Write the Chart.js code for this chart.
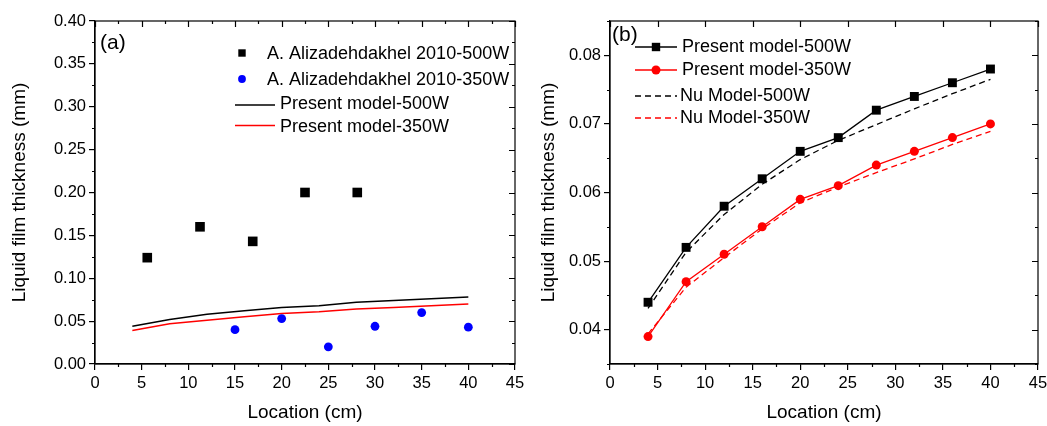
<!DOCTYPE html>
<html>
<head>
<meta charset="utf-8">
<script src="https://cdn.jsdelivr.net/npm/chart.js@4.4.1/dist/chart.umd.min.js"></script>
<style>
  html, body { margin: 0; padding: 0; background: #fff; width: 1047px; height: 426px; overflow: hidden; }
  #panelA { position: absolute; left: 0; top: 0; }
  #panelB { position: absolute; left: 530px; top: 0; }
</style>
</head>
<body>
<canvas id="panelA" width="530" height="426"></canvas>
<canvas id="panelB" width="517" height="426"></canvas>
<script>
// Model predictions along the tube (cm) -> film thickness (mm)
const locations  = [4, 8, 12, 16, 20, 24, 28, 32, 36, 40];
const present500 = [0.044, 0.052, 0.058, 0.062, 0.066, 0.068, 0.072, 0.074, 0.076, 0.078];
const present350 = [0.039, 0.047, 0.051, 0.055, 0.059, 0.061, 0.064, 0.066, 0.068, 0.070];
const nu500      = [0.0431, 0.0513, 0.0568, 0.0612, 0.0648, 0.0676, 0.0699, 0.0722, 0.0744, 0.0765];
const nu350      = [0.0394, 0.0462, 0.0505, 0.0547, 0.0585, 0.0608, 0.0629, 0.0649, 0.0670, 0.0689];

// Experimental data (Alizadehdakhel 2010)
const expLoc500 = [5.6, 11.25, 16.9, 22.5, 28.1];
const exp500    = [0.124, 0.160, 0.143, 0.200, 0.200];
const expLoc350 = [15, 20, 25, 30, 35, 40];
const exp350    = [0.040, 0.053, 0.020, 0.044, 0.060, 0.043];

// Tick labels
const xTicks  = [0, 5, 10, 15, 20, 25, 30, 35, 40, 45];
const yTicksA = [0, 0.05, 0.10, 0.15, 0.20, 0.25, 0.30, 0.35, 0.40];
const yTicksB = [0.04, 0.05, 0.06, 0.07, 0.08];

const FONT = "'Liberation Sans', Arial, sans-serif";
const RED = '#ff0000';
const BLUE = '#0000ff';
const BLACK = '#000000';

const pts = (xs, ys) => xs.map((x, i) => ({ x, y: ys[i] }));

// Draws the frame plus minor/mirrored tick marks from the chart's own scales
const frameTicks = {
  id: 'frameTicks',
  afterDraw(chart, args, o) {
    const { ctx, chartArea: a, scales: { x, y } } = chart;
    ctx.save();
    ctx.strokeStyle = BLACK;
    ctx.lineWidth = 1.2;
    ctx.strokeRect(a.left, a.top, a.right - a.left, a.bottom - a.top);
    ctx.beginPath();
    const eps = 1e-9;
    // bottom (outward) minor ticks, top (inward) ticks
    for (let v = x.min; v <= x.max + eps; v += o.xMinor) {
      const px = Math.round(x.getPixelForValue(v)) + 0.5;
      const major = Math.abs(v / o.xMajor - Math.round(v / o.xMajor)) < 1e-6;
      if (!major) { ctx.moveTo(px, a.bottom); ctx.lineTo(px, a.bottom + 3); }
      if (major || o.topMinor) {
        ctx.moveTo(px, a.top); ctx.lineTo(px, a.top + (major ? 6 : 3));
      }
    }
    // left (outward) minor ticks, right (inward) ticks
    for (let v = o.yStart; v <= y.max + eps; v += o.yMinor) {
      const py = Math.round(y.getPixelForValue(v)) + 0.5;
      const major = o.yMajorTest(v);
      if (!major) { ctx.moveTo(a.left, py); ctx.lineTo(a.left - 3, py); }
      ctx.moveTo(a.right, py); ctx.lineTo(a.right - (major ? 6 : 3), py);
    }
    ctx.stroke();
    ctx.restore();
  }
};

// Legend and panel label drawn inside the plot area
const innerLegend = {
  id: 'innerLegend',
  afterDraw(chart, args, o) {
    const ctx = chart.ctx;
    ctx.save();
    ctx.fillStyle = BLACK;
    ctx.textBaseline = 'middle';
    ctx.textAlign = 'left';
    ctx.font = o.tagFont;
    ctx.fillText(o.tag, o.tagX, o.tagY);
    ctx.font = o.font;
    o.items.forEach(it => {
      const ds = chart.data.datasets[it.index];
      if (it.line) {
        ctx.beginPath();
        ctx.strokeStyle = ds.borderColor;
        ctx.lineWidth = ds.borderWidth;
        ctx.setLineDash(ds.borderDash || []);
        ctx.moveTo(it.line[0], it.y);
        ctx.lineTo(it.line[1], it.y);
        ctx.stroke();
        ctx.setLineDash([]);
      }
      if (it.marker !== undefined) {
        ctx.fillStyle = ds.pointBackgroundColor;
        const r = it.size;
        ctx.beginPath();
        if (ds.pointStyle === 'rect') ctx.rect(it.marker - r, it.y - r, 2 * r, 2 * r);
        else ctx.arc(it.marker, it.y, r, 0, Math.PI * 2);
        ctx.fill();
      }
      ctx.fillStyle = BLACK;
      ctx.fillText(ds.label, it.textX, it.ty !== undefined ? it.ty : it.y);
    });
    ctx.restore();
  }
};

function axes(yMin, yMax, yTickList, yWidth, titlePadY) {
  return {
    x: {
      type: 'linear', min: 0, max: 45,
      afterBuildTicks: s => { s.ticks = xTicks.map(v => ({ value: v })); },
      afterFit: s => { s.height = 62; s.paddingLeft = 0; s.paddingRight = 0; },
      grid: { drawOnChartArea: false, drawTicks: true, tickLength: 6, color: BLACK, lineWidth: 1.2 },
      border: { display: true, color: BLACK, width: 1.2 },
      ticks: { color: BLACK, font: { family: FONT, size: 16.5 }, padding: 4, maxRotation: 0, callback: v => String(v) },
      title: { display: true, text: 'Location (cm)', color: BLACK, font: { family: FONT, size: 19 }, padding: { top: 0, bottom: 2 } }
    },
    y: {
      type: 'linear', min: yMin, max: yMax,
      afterBuildTicks: s => { s.ticks = yTickList.map(v => ({ value: v })); },
      afterFit: s => { s.width = yWidth; s.paddingTop = 0; s.paddingBottom = 0; },
      grid: { drawOnChartArea: false, drawTicks: true, tickLength: 6, color: BLACK, lineWidth: 1.2 },
      border: { display: true, color: BLACK, width: 1.2 },
      ticks: { color: BLACK, font: { family: FONT, size: 16.5 }, padding: 3, callback: v => Number(v).toFixed(2) },
      title: { display: true, text: 'Liquid film thickness (mm)', color: BLACK, font: { family: FONT, size: 19 }, padding: { top: titlePadY, bottom: 0 } }
    }
  };
}

// Panel (a): experiments vs present model
new Chart(document.getElementById('panelA'), {
  type: 'scatter',
  data: {
    datasets: [
      { label: 'A. Alizadehdakhel 2010-500W', data: pts(expLoc500, exp500), pointStyle: 'rect',
        pointRadius: 6.8, pointBackgroundColor: BLACK, pointBorderColor: BLACK, pointBorderWidth: 0, showLine: false },
      { label: 'A. Alizadehdakhel 2010-350W', data: pts(expLoc350, exp350), pointStyle: 'circle',
        pointRadius: 4.4, pointBackgroundColor: BLUE, pointBorderColor: BLUE, pointBorderWidth: 0, showLine: false },
      { label: 'Present model-500W', data: pts(locations, present500), showLine: true, pointRadius: 0,
        borderColor: BLACK, borderWidth: 1.5, fill: false, tension: 0 },
      { label: 'Present model-350W', data: pts(locations, present350), showLine: true, pointRadius: 0,
        borderColor: RED, borderWidth: 1.5, fill: false, tension: 0 }
    ]
  },
  options: {
    responsive: false, animation: false,
    layout: { padding: { top: 21, right: 15, left: 0, bottom: 0 } },
    plugins: {
      legend: { display: false }, tooltip: { enabled: false },
      frameTicks: { xMinor: 2.5, xMajor: 5, topMinor: true, yStart: 0, yMinor: 0.025,
        yMajorTest: v => Math.abs(v / 0.05 - Math.round(v / 0.05)) < 1e-6 },
      innerLegend: {
        tag: '(a)', tagX: 100, tagY: 43, tagFont: `21px ${FONT}`, font: `18px ${FONT}`,
        items: [
          { index: 0, marker: 242, size: 3.7, y: 53, ty: 54, textX: 267 },
          { index: 1, marker: 242, size: 3.9, y: 79, ty: 80, textX: 267 },
          { index: 2, line: [235, 275], y: 105, ty: 104, textX: 280 },
          { index: 3, line: [235, 275], y: 125.5, ty: 127, textX: 280 }
        ]
      }
    },
    scales: axes(0, 0.40, yTicksA, 95, 8)
  },
  plugins: [frameTicks, innerLegend]
});

// Panel (b): present model vs Nu model
new Chart(document.getElementById('panelB'), {
  type: 'scatter',
  data: {
    datasets: [
      { label: 'Present model-500W', data: pts(locations, present500), showLine: true, pointStyle: 'rect',
        pointRadius: 6.3, pointBackgroundColor: BLACK, pointBorderColor: BLACK, pointBorderWidth: 0,
        borderColor: BLACK, borderWidth: 1.3, tension: 0 },
      { label: 'Present model-350W', data: pts(locations, present350), showLine: true, pointStyle: 'circle',
        pointRadius: 4.5, pointBackgroundColor: RED, pointBorderColor: RED, pointBorderWidth: 0,
        borderColor: RED, borderWidth: 1.3, tension: 0 },
      { label: 'Nu Model-500W', data: pts(locations, nu500), showLine: true, pointRadius: 0,
        borderColor: BLACK, borderWidth: 1.3, borderDash: [6, 4], tension: 0 },
      { label: 'Nu Model-350W', data: pts(locations, nu350), showLine: true, pointRadius: 0,
        borderColor: RED, borderWidth: 1.3, borderDash: [6, 4], tension: 0 }
    ]
  },
  options: {
    responsive: false, animation: false,
    layout: { padding: { top: 21, right: 9, left: 0, bottom: 0 } },
    plugins: {
      legend: { display: false }, tooltip: { enabled: false },
      frameTicks: { xMinor: 2.5, xMajor: 5, topMinor: false, yStart: 0.035, yMinor: 0.005,
        yMajorTest: v => Math.abs(v / 0.01 - Math.round(v / 0.01)) < 1e-6 },
      innerLegend: {
        tag: '(b)', tagX: 82, tagY: 35, tagFont: `21px ${FONT}`, font: `18px ${FONT}`,
        items: [
          { index: 0, line: [105, 147], marker: 126, size: 4.2, y: 47, textX: 152 },
          { index: 1, line: [105, 147], marker: 126, size: 4.5, y: 70, textX: 152 },
          { index: 2, line: [105, 147], y: 96, textX: 150 },
          { index: 3, line: [105, 147], y: 118, textX: 150 }
        ]
      }
    },
    scales: axes(0.035, 0.085, yTicksB, 80, 7)
  },
  plugins: [frameTicks, innerLegend]
});
</script>
</body>
</html>
